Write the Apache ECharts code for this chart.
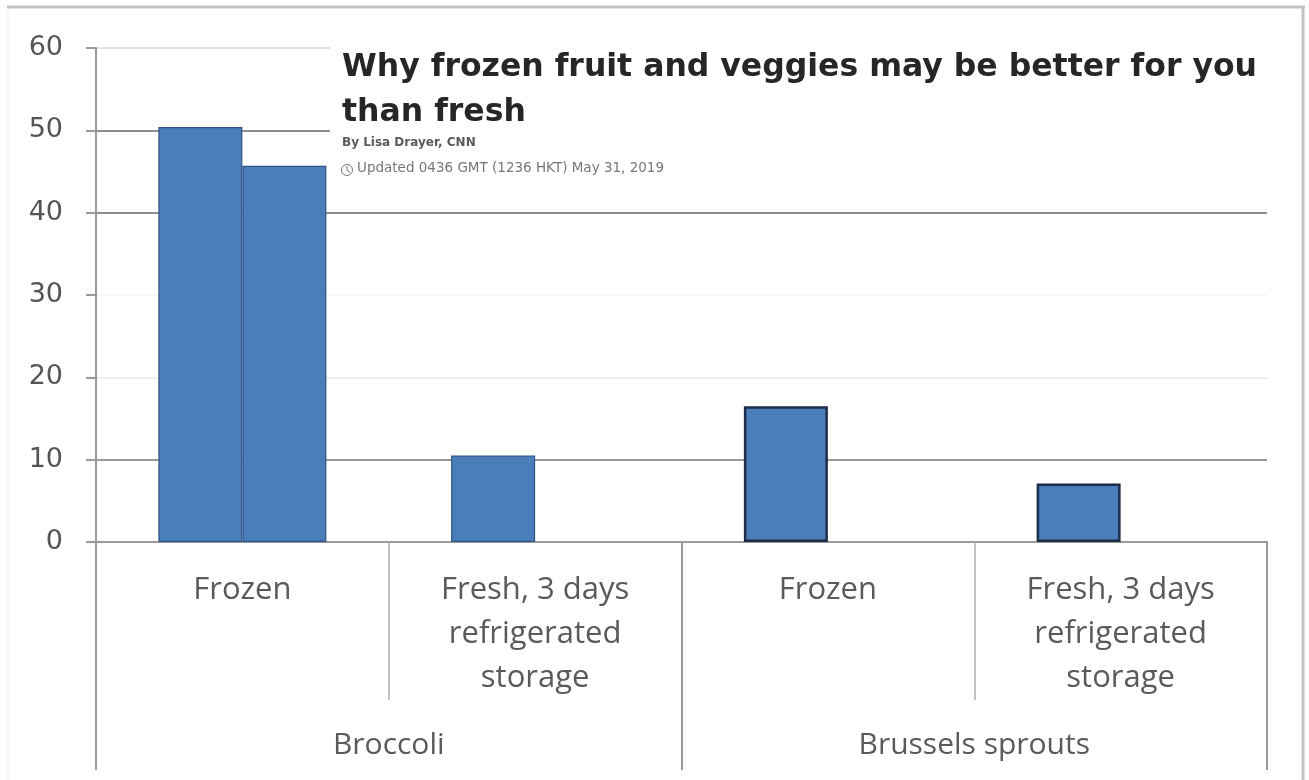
<!DOCTYPE html>
<html>
<head>
<meta charset="utf-8">
<script src="https://cdn.jsdelivr.net/npm/echarts@6/dist/echarts.min.js"></script>
<style>
html,body{margin:0;padding:0;background:#fff;}
#chart{width:1309px;height:780px;}
</style>
</head>
<body>
<div id="chart"></div>
<script>
const categories = ['Frozen', 'Fresh, 3 days\nrefrigerated\nstorage', 'Frozen', 'Fresh, 3 days\nrefrigerated\nstorage'];
const groups = ['Broccoli', 'Brussels sprouts'];
const seriesA = [50.4, 10.5, 16.5, 7.1];
const seriesB = [45.7, null, null, null];
const yTicks = [0, 10, 20, 30, 40, 50, 60];
const titleLines = ['Why frozen fruit and veggies may be better for you', 'than fresh'];
const byline = 'By Lisa Drayer, CNN';
const updated = 'Updated 0436 GMT (1236 HKT) May 31, 2019';

const chart = echarts.init(document.getElementById('chart'));
const barColor = '#4a7ebb';
function styled(arr) {
  return arr.map((v, i) => ({
    value: v,
    itemStyle: (i >= 2)
      ? { color: barColor, borderColor: '#1d2d47', borderWidth: 2.5 }
      : { color: barColor, borderColor: '#2f5384', borderWidth: 1.2 }
  }));
}
const option = {
  animation: false,
  backgroundColor: '#fff',
  grid: { left: 96, right: 42, top: 48, bottom: 238, containLabel: false },
  xAxis: [
    {
      type: 'category', data: categories, position: 'bottom',
      axisLine: { show: true, lineStyle: { color: '#9a9a9a', width: 2 } },
      axisTick: { show: true, interval: 0, length: 158, lineStyle: { color: '#b0b0b0', width: 1.5 } },
      axisLabel: { interval: 0, margin: 26, fontFamily: 'Open Sans', fontSize: 31, color: '#5a5a5a', lineHeight: 44, verticalAlign: 'top' }
    },
    {
      type: 'category', data: groups, position: 'bottom',
      axisLine: { show: false },
      axisTick: { show: true, interval: 0, length: 228, lineStyle: { color: '#9a9a9a', width: 2 } },
      axisLabel: { interval: 0, margin: 181, fontFamily: 'Open Sans', fontSize: 30, color: '#5a5a5a', lineHeight: 44, verticalAlign: 'top' }
    }
  ],
  yAxis: {
    type: 'value', min: 0, max: 60, interval: 10,
    axisLine: { show: true, lineStyle: { color: '#9a9a9a', width: 2 } },
    axisTick: { show: true, length: 10, lineStyle: { color: '#9a9a9a', width: 2 } },
    axisLabel: { margin: 33, fontFamily: 'DejaVu Sans', fontSize: 27, color: '#555',
      formatter: v => yTicks.includes(v) ? String(v) : '' },
    splitLine: { show: true, lineStyle: { width: 2, color: ['#9a9a9a', '#9a9a9a', '#eeeeee', '#f8f8f8', '#8f8f8f', '#8f8f8f', '#e2e2e2'] } }
  },
  series: [
    { type: 'bar', xAxisIndex: 0, data: styled(seriesA), barWidth: 84, barGap: '0%' },
    { type: 'bar', xAxisIndex: 0, data: styled(seriesB), barWidth: 84, barGap: '0%' }
  ],
  graphic: [
    { type: 'rect', z: 100, shape: { x: 330, y: 36, width: 940, height: 162 }, style: { fill: '#fff' } },
    { type: 'text', z: 101, left: 342, top: 45, style: { text: titleLines.join('\n'), font: 'bold 31.5px "DejaVu Sans", sans-serif', fill: '#262626', lineHeight: 45 } },
    { type: 'text', z: 101, left: 342, top: 137, style: { text: byline, font: 'bold 12px "DejaVu Sans", sans-serif', fill: '#5a5a5a' } },
    { type: 'circle', z: 101, shape: { cx: 347, cy: 170, r: 5.5 }, style: { fill: 'none', stroke: '#777', lineWidth: 1 } },
    { type: 'polyline', z: 101, shape: { points: [[347, 166], [347, 170], [350, 172.5]] }, style: { fill: 'none', stroke: '#777', lineWidth: 1 } },
    { type: 'text', z: 101, left: 357, top: 161, style: { text: updated, font: '13.5px "DejaVu Sans", sans-serif', fill: '#777' } },
    { type: 'line', z: 102, shape: { x1: 7, y1: 7, x2: 1305, y2: 7 }, style: { stroke: '#c4c4c4', lineWidth: 3 } },
    { type: 'line', z: 102, shape: { x1: 1303, y1: 7, x2: 1303, y2: 780 }, style: { stroke: '#c4c4c4', lineWidth: 3 } },
    { type: 'line', z: 102, shape: { x1: 8, y1: 8, x2: 8, y2: 780 }, style: { stroke: '#f0f0f0', lineWidth: 1 } }
  ]
};
chart.setOption(option);
</script>
</body>
</html>
